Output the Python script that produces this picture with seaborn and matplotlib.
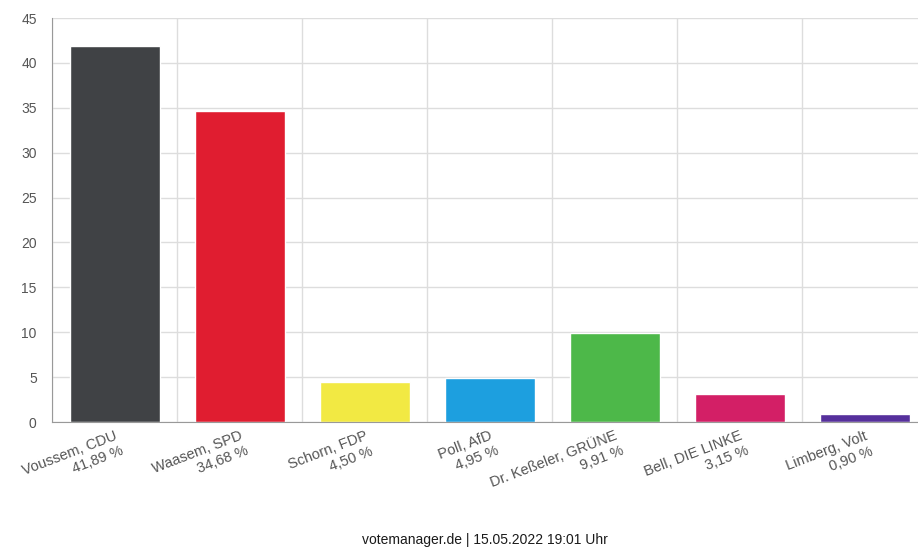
import matplotlib
matplotlib.use('Agg')
import matplotlib.pyplot as plt
import seaborn as sns
import pandas as pd
import numpy as np

# data
candidates = ['Voussem, CDU', 'Waasem, SPD', 'Schorn, FDP', 'Poll, AfD',
              'Dr. Keßeler, GRÜNE', 'Bell, DIE LINKE', 'Limberg, Volt']
shares = [41.89, 34.68, 4.50, 4.95, 9.91, 3.15, 0.90]
share_labels = ['41,89 %', '34,68 %', '4,50 %', '4,95 %', '9,91 %', '3,15 %', '0,90 %']
colors = ['#404245', '#e01d30', '#f2e943', '#1d9fdf', '#4db849', '#d31f66', '#56309c']
y_ticks = [0, 5, 10, 15, 20, 25, 30, 35, 40, 45]
footer = 'votemanager.de | 15.05.2022 19:01 Uhr'

df = pd.DataFrame({'name': candidates, 'share': shares})

sns.set_style('white')
plt.rcParams['font.family'] = ['Liberation Sans', 'DejaVu Sans']

fig = plt.figure(figsize=(9.18, 5.5), dpi=100)
ax = fig.add_axes([52 / 918, 128 / 550, 875 / 918, 404 / 550])

sns.barplot(data=df, x='name', y='share', hue='name', palette=colors,
            legend=False, width=0.72, saturation=1, ax=ax)

ax.set_xlim(-0.5, len(candidates) - 0.5)
ax.set_ylim(0, 45)
ax.set_yticks(y_ticks)
ax.set_yticklabels([str(t) for t in y_ticks])

# category boundaries as minor ticks carrying the vertical grid
ax.set_xticks(np.arange(len(candidates)))
ax.set_xticks(np.arange(len(candidates) + 1) - 0.5, minor=True)
ax.set_xticklabels([c + '\n' + s for c, s in zip(candidates, share_labels)],
                   rotation=21, ha='right', rotation_mode='anchor',
                   multialignment='right')

ax.set_axisbelow(True)
ax.grid(axis='y', color='#dddddd', linewidth=1)
ax.grid(axis='x', which='minor', color='#dddddd', linewidth=1)

ax.tick_params(axis='x', which='major', length=0, pad=5, labelsize=10.5,
               labelcolor='#555555')
ax.tick_params(axis='x', which='minor', length=10, color='#aaaaaa', width=1)
ax.tick_params(axis='y', length=8, color='#cccccc', labelsize=10,
               labelcolor='#555555', pad=3)

for side in ['top', 'right']:
    ax.spines[side].set_visible(False)
ax.spines['left'].set_color('#999999')
ax.spines['bottom'].set_color('#999999')

ax.set_xlabel('')
ax.set_ylabel('')

fig.text(485 / 918, 1 - 540 / 550, footer, ha='center', va='center',
         fontsize=10, color='#1a1a1a')

plt.savefig('out.png', dpi=100)
